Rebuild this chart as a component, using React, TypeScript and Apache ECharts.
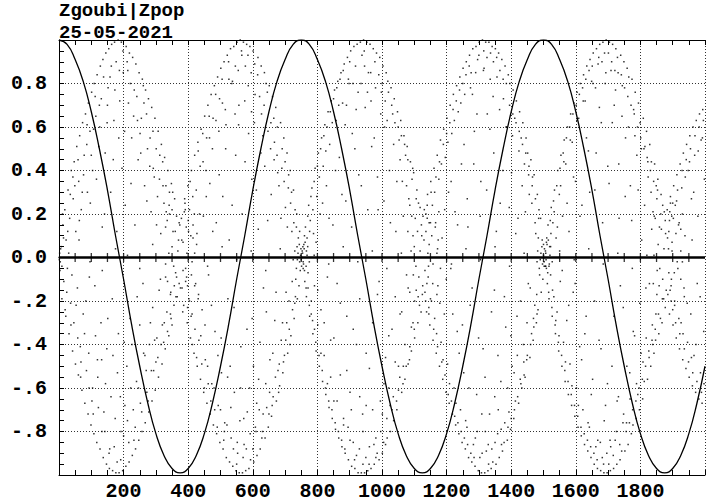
import React, { useEffect, useRef } from "react";
import * as echarts from "echarts";

// ---- curve (Zpop), x step 25 ----
const cosX = [
  0, 25, 50, 75, 100, 125, 150, 175, 200, 225, 250, 275, 300, 325, 350, 375, 400, 425, 450, 475,
  500, 525, 550, 575, 600, 625, 650, 675, 700, 725, 750, 775, 800, 825, 850, 875, 900, 925, 950, 975,
  1000, 1025, 1050, 1075, 1100, 1125, 1150, 1175, 1200, 1225, 1250, 1275, 1300, 1325, 1350, 1375, 1400, 1425, 1450, 1475,
  1500, 1525, 1550, 1575, 1600, 1625, 1650, 1675, 1700, 1725, 1750, 1775, 1800, 1825, 1850, 1875, 1900, 1925, 1950, 1975, 2000,
];
const cosY = [
  1.0, 0.98, 0.91, 0.81, 0.67, 0.5, 0.31, 0.1, -0.1, -0.31, -0.5, -0.67, -0.81, -0.91, -0.97, -0.99, -0.97, -0.91, -0.81, -0.67,
  -0.5, -0.31, -0.1, 0.1, 0.31, 0.5, 0.67, 0.81, 0.91, 0.98, 1.0, 0.98, 0.91, 0.81, 0.67, 0.5, 0.31, 0.1, -0.1, -0.31,
  -0.5, -0.67, -0.81, -0.91, -0.97, -0.99, -0.97, -0.91, -0.81, -0.67, -0.5, -0.31, -0.1, 0.1, 0.31, 0.5, 0.67, 0.81, 0.91, 0.98,
  1.0, 0.98, 0.91, 0.81, 0.67, 0.5, 0.31, 0.1, -0.1, -0.31, -0.5, -0.67, -0.81, -0.91, -0.97, -0.99, -0.97, -0.91, -0.81, -0.67, -0.5,
];

// ---- particle cloud ----
const cloudA = [
  [5,.04],[12,.15],[18,.22],[22,.08],[28,.31],[33,.18],[38,.40],[44,.27],[47,.44],[52,.12],[55,.51],[61,.35],[64,.56],[69,.22],[73,.62],[78,.47],[82,.66],[88,.30],[91,.71],[96,.58],[101,.76],[104,.40],[109,.80],[114,.65],[118,.84],[123,.51],[128,.88],[131,.73],[136,.91],[141,.20],[145,.94],[149,.62],[154,.96],[158,.83],[163,.98],[168,.45],[172,.99],[177,.90],[183,1.0],[188,.72],[193,.99],[198,.95],[203,.58],[208,.97],[213,.86],[218,.94],[223,.34],[228,.92],[233,.77],[238,.89],[243,.63],[248,.85],[253,.48],[258,.82],[263,.71],[268,.77],[272,.26],[277,.73],[282,.55],[287,.69],[292,.41],[297,.64],[302,.15],[307,.58],[312,.47],[317,.52],[322,.33],[327,.46],[332,.21],[337,.40],[342,.30],[348,.34],[353,.12],[358,.27],[364,.19],[370,.08],[374,.15],
  [3,-.06],[9,-.19],[15,-.11],[21,-.27],[26,-.05],[31,-.35],[36,-.21],[42,-.43],[46,-.30],[51,-.49],[57,-.14],[60,-.54],[66,-.41],[71,-.61],[75,-.26],[80,-.67],[85,-.52],[90,-.72],[94,-.09],[99,-.77],[104,-.60],[108,-.81],[113,-.36],[117,-.85],[122,-.69],[127,-.88],[132,-.47],[137,-.92],[142,-.80],[147,-.95],[151,-.28],[156,-.97],[161,-.64],[166,-.98],[171,-.87],[176,-.99],[181,-.53],[186,-.99],[191,-.93],[197,-.98],[202,-.39],[207,-.96],[212,-.75],[217,-.94],[222,-.60],[227,-.91],[232,-.84],[237,-.88],[242,-.18],[247,-.84],[252,-.67],[257,-.80],[262,-.44],[267,-.76],[272,-.62],[278,-.71],[283,-.30],[288,-.66],[293,-.52],[298,-.61],[303,-.37],[308,-.55],[314,-.10],[319,-.49],[324,-.39],[329,-.42],[334,-.25],[340,-.36],[345,-.17],[350,-.31],[356,-.22],[361,-.07],[366,-.18],[372,-.12],
  [14,.09],[24,-.16],[35,.29],[40,-.08],[49,.33],[58,-.37],[63,.17],[68,-.48],[76,.38],[83,-.20],[86,.52],[92,-.44],[97,.25],[102,-.66],[107,.59],[111,-.13],[116,.36],[120,-.55],[125,.70],[130,-.30],[134,.14],[139,-.71],[143,.48],[148,-.42],[152,.78],[157,-.88],[160,.30],[165,-.19],[170,.63],[174,-.74],[179,.12],[184,-.35],[187,.86],[190,-.64],[195,.41],[200,-.82],[205,.24],[210,-.50],[215,.71],[220,-.28],[225,.55],[230,-.70],[235,.15],[240,-.57],[245,.45],[250,-.31],[255,.64],[260,-.12],[265,.33],[270,-.52],[274,.50],[280,-.40],[285,.21],[290,-.23],[295,.37],[300,-.48],[305,.28],[310,-.15],[315,.11],[320,-.31],[325,.25],[330,-.09],[335,.17],[345,-.26],[350,.22],[30,.02],[62,.08],[96,-.02],[134,-.06],[175,.04],[212,.01],[250,-.05],[290,.06],[330,-.03],
  [11,.20],[19,-.24],[27,.12],[37,-.31],[43,.37],[53,-.22],[59,.45],[67,-.55],[72,.30],[79,-.35],[87,.61],[93,-.60],[100,.47],[106,-.72],[112,.74],[119,-.47],[126,.60],[133,-.80],[138,.83],[144,-.58],[150,.70],[155,-.90],[162,.88],[167,-.45],[173,.77],[180,-.94],[185,.55],[192,-.80],[199,.85],[204,-.68],[211,.90],[216,-.85],[221,.80],[226,-.40],[231,.65],[236,-.78],[241,.74],[246,-.60],[251,.57],[256,-.71],[261,.79],[266,-.45],[271,.66],[276,-.66],[281,.42],[286,-.52],[291,.58],[296,-.38],[301,.50],[306,-.46],[311,.36],[316,-.40],[321,.44],[326,-.30],[331,.33],[336,-.34],[341,.24],[347,-.28],[352,.30],[357,-.13],
];
const cloudB = [
  [379,.18],[384,.07],[389,.27],[394,.14],[399,.33],[404,.22],[410,.40],[415,.09],[420,.47],[425,.31],[430,.53],[435,.20],[440,.59],[446,.44],[451,.65],[456,.28],[461,.70],[466,.55],[471,.75],[476,.12],[481,.79],[486,.63],[491,.83],[496,.38],[501,.87],[506,.71],[511,.90],[516,.50],[521,.93],[526,.82],[531,.96],[536,.24],[541,.97],[546,.88],[551,.99],[556,.61],[561,1.0],[566,.93],[571,.99],[576,.44],[581,.98],[586,.79],[591,.97],[596,.67],[601,.95],[606,.89],[611,.31],[616,.92],[621,.74],[626,.88],[631,.56],[636,.85],[641,.80],[646,.17],[651,.79],[656,.62],[661,.74],[666,.45],[671,.69],[676,.60],[681,.33],[686,.62],[691,.50],[696,.55],[701,.23],[706,.48],[711,.38],[716,.40],[721,.12],[726,.31],[731,.22],[736,.20],[741,.09],[745,.12],[749,.04],
  [381,-.14],[386,-.22],[392,-.05],[397,-.30],[402,-.19],[407,-.37],[412,-.26],[418,-.44],[423,-.12],[428,-.50],[433,-.38],[438,-.56],[443,-.24],[448,-.62],[453,-.47],[458,-.67],[463,-.08],[468,-.72],[473,-.58],[478,-.77],[483,-.34],[488,-.81],[493,-.68],[498,-.85],[503,-.53],[508,-.88],[513,-.76],[518,-.92],[523,-.19],[528,-.94],[533,-.83],[538,-.96],[543,-.62],[548,-.98],[553,-.90],[558,-.99],[563,-.41],[568,-.99],[573,-.86],[578,-.98],[583,-.71],[588,-.97],[593,-.93],[598,-.28],[603,-.94],[608,-.78],[613,-.91],[618,-.56],[623,-.88],[628,-.83],[633,-.14],[638,-.83],[643,-.69],[648,-.78],[653,-.47],[658,-.73],[663,-.64],[668,-.29],[673,-.66],[678,-.52],[683,-.59],[688,-.38],[693,-.53],[698,-.45],[703,-.16],[708,-.44],[713,-.33],[718,-.36],[723,-.24],[728,-.28],[733,-.10],[738,-.19],[743,-.13],[747,-.06],
  [395,-.09],[401,.12],[409,-.27],[414,.28],[421,-.33],[427,.11],[432,-.17],[437,.42],[442,-.49],[447,.19],[452,-.31],[457,.55],[462,-.58],[467,.34],[472,-.22],[477,.64],[482,-.70],[487,.16],[492,-.45],[497,.73],[502,-.37],[507,.28],[512,-.80],[517,.61],[522,-.55],[527,.08],[532,-.69],[537,.81],[542,-.23],[547,.47],[552,-.85],[557,.70],[562,-.60],[567,.20],[572,-.74],[577,.88],[582,-.33],[587,.57],[592,-.81],[597,.36],[602,-.50],[607,.75],[612,-.67],[617,.13],[622,-.39],[627,.66],[632,-.72],[637,.42],[642,-.25],[647,.58],[652,-.62],[657,.29],[662,-.44],[667,.53],[672,-.16],[677,.39],[682,-.49],[687,.18],[692,-.30],[697,.35],[702,-.38],[707,.14],[712,-.20],[717,.25],[722,-.11],[727,.16],[732,-.18],[737,.05],[420,.02],[460,-.04],[505,.05],[550,-.01],[595,.03],[640,-.06],[685,.04],[725,-.01],
  [383,-.25],[391,.22],[398,-.13],[406,.35],[413,-.40],[419,.20],[426,-.46],[431,.49],[439,-.36],[445,.57],[450,-.60],[455,.40],[460,-.50],[465,.65],[470,-.66],[475,.50],[480,-.60],[485,.75],[490,-.78],[495,.58],[500,-.70],[505,.82],[510,-.84],[515,.68],[520,-.77],[525,.90],[530,-.50],[535,.80],[540,-.88],[545,.66],[550,-.95],[555,.86],[560,-.75],[565,.95],[570,-.92],[575,.72],[580,-.88],[585,.93],[590,-.60],[595,.85],[600,-.88],[605,.62],[610,-.80],[615,.84],[620,-.70],[625,.48],[630,-.80],[635,.70],[640,-.58],[645,.76],[650,-.72],[655,.50],[660,-.68],[665,.64],[670,-.55],[675,.47],[680,-.62],[690,.41],[695,-.48],[700,.44],[705,-.30],[710,.32],[715,-.40],[720,.30],[730,-.21],[735,.14],
];
const cloudC = [
  [758,.06],[763,.14],[768,.09],[773,.24],[778,.17],[783,.32],[788,.11],[793,.41],[798,.28],[803,.48],[808,.20],[813,.55],[818,.42],[823,.61],[828,.33],[833,.67],[838,.52],[843,.72],[848,.15],[853,.77],[858,.63],[863,.81],[868,.46],[873,.85],[878,.71],[883,.89],[888,.26],[893,.92],[898,.80],[903,.95],[908,.57],[913,.97],[918,.88],[923,.98],[928,.38],[933,.99],[938,.93],[943,1.0],[948,.69],[953,.99],[958,.85],[963,.98],[968,.51],[973,.96],[978,.90],[983,.94],[988,.22],[993,.92],[998,.76],[1003,.88],[1008,.60],[1013,.85],[1018,.81],[1023,.40],[1028,.78],[1033,.66],[1038,.73],[1043,.12],[1048,.67],[1053,.54],[1058,.63],[1063,.35],[1068,.56],[1073,.47],[1078,.51],[1083,.27],[1088,.44],[1093,.36],[1098,.39],[1103,.18],[1108,.31],[1113,.25],[1118,.23],[1123,.10],[1127,.19],
  [756,-.05],[761,-.11],[766,-.18],[771,-.07],[776,-.27],[781,-.20],[786,-.35],[791,-.13],[796,-.43],[801,-.31],[806,-.50],[811,-.24],[816,-.57],[821,-.45],[826,-.63],[831,-.09],[836,-.69],[841,-.55],[846,-.74],[851,-.37],[856,-.79],[861,-.66],[866,-.83],[871,-.21],[876,-.87],[881,-.74],[886,-.90],[891,-.52],[896,-.93],[901,-.84],[906,-.96],[911,-.33],[916,-.97],[921,-.91],[926,-.99],[931,-.64],[936,-.99],[941,-.95],[946,-.99],[951,-.44],[956,-.98],[961,-.87],[966,-.97],[971,-.70],[976,-.95],[981,-.92],[986,-.17],[991,-.93],[996,-.80],[1001,-.90],[1006,-.58],[1011,-.86],[1016,-.83],[1021,-.36],[1026,-.80],[1031,-.70],[1036,-.75],[1041,-.48],[1046,-.70],[1051,-.61],[1056,-.26],[1061,-.62],[1066,-.50],[1071,-.56],[1076,-.08],[1081,-.49],[1086,-.41],[1091,-.43],[1096,-.30],[1101,-.37],[1106,-.15],[1111,-.30],[1116,-.22],[1121,-.25],[1126,-.13],
  [766,.03],[771,-.14],[776,.12],[781,-.26],[786,.22],[791,-.33],[796,.07],[801,-.15],[806,.37],[811,-.44],[816,.25],[821,-.30],[826,.49],[831,-.58],[836,.18],[841,-.38],[846,.62],[851,-.66],[856,.40],[861,-.12],[866,.70],[871,-.54],[876,.29],[881,-.77],[886,.61],[891,-.27],[896,.82],[901,-.62],[906,.14],[911,-.85],[916,.50],[921,-.40],[926,.76],[931,-.19],[936,.33],[941,-.80],[946,.88],[951,-.68],[956,.22],[961,-.51],[966,.72],[971,-.30],[976,.55],[981,-.83],[986,.37],[991,-.11],[996,.66],[1001,-.72],[1006,.26],[1011,-.46],[1016,.63],[1021,-.60],[1026,.16],[1031,-.33],[1036,.52],[1041,-.18],[1046,.35],[1051,-.50],[1056,.45],[1061,-.25],[1066,.19],[1071,-.40],[1076,.33],[1081,-.14],[1086,.24],[1091,-.32],[1096,.10],[1101,-.20],[1106,.27],[790,.01],[835,-.03],[880,.05],[925,-.02],[970,.03],[1015,-.05],[1060,.02],
  [760,.10],[765,-.14],[770,.19],[775,-.22],[780,.28],[785,-.29],[790,.35],[795,-.39],[800,.42],[805,-.45],[810,.50],[815,-.52],[820,.56],[825,-.60],[830,.60],[835,-.66],[840,.67],[845,-.70],[850,.73],[855,-.76],[860,.78],[865,-.80],[870,.82],[875,-.84],[880,.86],[885,-.88],[890,.70],[895,-.78],[900,.90],[905,-.70],[910,.80],[915,-.93],[920,.68],[930,-.88],[935,.80],[940,-.72],[945,.95],[950,-.92],[955,.76],[960,-.95],[965,.85],[975,-.86],[980,.78],[985,-.90],[990,.84],[995,-.66],[1000,.80],[1005,-.85],[1010,.72],[1015,-.74],[1020,.76],[1025,-.68],[1030,.70],[1035,-.64],[1040,.62],[1045,-.66],[1050,.60],[1055,-.55],[1060,.56],[1065,-.58],[1070,.52],[1075,-.50],[1080,.45],[1085,-.47],[1095,.41],[1100,-.33],
];
const cloudD = [
  [1131,.22],[1136,.12],[1141,.29],[1146,.06],[1151,.35],[1156,.24],[1161,.41],[1166,.16],[1171,.47],[1176,.36],[1181,.54],[1186,.09],[1191,.59],[1196,.46],[1201,.64],[1206,.30],[1211,.70],[1216,.57],[1221,.75],[1226,.21],[1231,.79],[1236,.67],[1241,.83],[1246,.43],[1251,.87],[1256,.75],[1261,.90],[1266,.14],[1271,.93],[1276,.85],[1281,.96],[1286,.58],[1291,.97],[1296,.91],[1301,.99],[1306,.35],[1311,1.0],[1316,.87],[1321,.99],[1326,.66],[1331,.99],[1336,.94],[1341,.97],[1346,.48],[1351,.96],[1356,.83],[1361,.94],[1366,.25],[1371,.91],[1376,.73],[1381,.88],[1386,.60],[1391,.84],[1396,.80],[1401,.39],[1406,.77],[1411,.64],[1416,.72],[1421,.18],[1426,.67],[1431,.55],[1436,.62],[1441,.43],[1446,.55],[1451,.48],[1456,.29],[1461,.45],[1466,.37],[1471,.38],[1476,.11],[1481,.29],[1486,.22],[1491,.18],[1496,.08],[1500,.06],
  [1133,-.16],[1138,-.25],[1143,-.09],[1148,-.31],[1153,-.20],[1158,-.38],[1163,-.28],[1168,-.44],[1173,-.13],[1178,-.50],[1183,-.39],[1188,-.56],[1193,-.26],[1198,-.62],[1203,-.49],[1208,-.67],[1213,-.05],[1218,-.72],[1223,-.60],[1228,-.77],[1233,-.34],[1238,-.81],[1243,-.70],[1248,-.85],[1253,-.53],[1258,-.88],[1263,-.78],[1268,-.92],[1273,-.22],[1278,-.94],[1283,-.86],[1288,-.96],[1293,-.63],[1298,-.98],[1303,-.92],[1308,-.99],[1313,-.42],[1318,-.99],[1323,-.89],[1328,-.98],[1333,-.72],[1338,-.97],[1343,-.94],[1348,-.15],[1353,-.95],[1358,-.81],[1363,-.92],[1368,-.57],[1373,-.89],[1378,-.85],[1383,-.32],[1388,-.84],[1393,-.71],[1398,-.79],[1403,-.50],[1408,-.74],[1413,-.66],[1418,-.27],[1423,-.67],[1428,-.56],[1433,-.60],[1438,-.40],[1443,-.55],[1448,-.47],[1453,-.12],[1458,-.46],[1463,-.35],[1468,-.38],[1473,-.22],[1478,-.30],[1483,-.24],[1488,-.08],[1493,-.16],[1498,-.10],[1502,-.04],
  [1144,-.04],[1150,.16],[1157,-.12],[1163,.30],[1169,-.35],[1174,.08],[1179,-.21],[1184,.43],[1189,-.47],[1194,.22],[1199,-.10],[1204,.53],[1209,-.58],[1214,.35],[1219,-.26],[1224,.63],[1229,-.67],[1234,.15],[1239,-.44],[1244,.71],[1249,-.31],[1254,.52],[1259,-.75],[1264,.27],[1269,-.60],[1274,.78],[1279,-.14],[1284,.43],[1289,-.83],[1294,.66],[1299,-.37],[1304,.19],[1309,-.72],[1314,.86],[1319,-.55],[1324,.31],[1329,-.86],[1334,.59],[1339,-.25],[1344,.74],[1349,-.64],[1354,.12],[1359,-.45],[1364,.68],[1369,-.79],[1374,.40],[1379,-.18],[1384,.60],[1389,-.60],[1394,.23],[1399,-.36],[1404,.56],[1409,-.53],[1414,.11],[1419,-.45],[1424,.49],[1429,-.20],[1434,.33],[1439,-.48],[1444,.21],[1449,-.30],[1454,.38],[1459,-.14],[1464,.25],[1469,-.28],[1474,.16],[1479,-.17],[1484,.09],[1170,.02],[1215,-.03],[1260,.04],[1305,-.01],[1350,.05],[1395,-.04],[1440,.02],[1480,-.02],
  [1135,-.20],[1140,.18],[1145,-.26],[1152,.30],[1160,-.33],[1167,.37],[1172,-.41],[1178,.44],[1185,-.48],[1190,.52],[1195,-.54],[1200,.57],[1205,-.63],[1210,.62],[1215,-.66],[1220,.68],[1225,-.73],[1230,.72],[1235,-.76],[1240,.77],[1245,-.80],[1250,.80],[1255,-.83],[1260,.84],[1265,-.86],[1270,.88],[1275,-.90],[1280,.75],[1285,-.92],[1290,.85],[1295,-.80],[1300,.93],[1310,-.90],[1315,.95],[1320,-.80],[1325,.92],[1330,-.95],[1335,.82],[1340,-.88],[1345,.90],[1350,-.85],[1355,.92],[1360,-.70],[1365,.86],[1370,-.86],[1375,.82],[1380,-.76],[1385,.80],[1390,-.78],[1395,.70],[1400,-.74],[1405,.66],[1410,-.70],[1415,.62],[1420,-.64],[1425,.58],[1430,-.58],[1435,.52],[1440,-.54],[1445,.48],[1450,-.45],[1455,.42],[1460,-.40],[1465,.33],[1470,-.32],[1475,.27],[1480,-.26],[1485,.18],
];
const cloudE = [
  [1509,.07],[1514,.15],[1519,.05],[1524,.23],[1529,.16],[1534,.31],[1539,.09],[1544,.40],[1549,.29],[1554,.47],[1559,.19],[1564,.54],[1569,.43],[1574,.60],[1579,.12],[1584,.66],[1589,.53],[1594,.71],[1599,.35],[1604,.76],[1609,.64],[1614,.80],[1619,.24],[1624,.84],[1629,.72],[1634,.88],[1639,.49],[1644,.91],[1649,.81],[1654,.94],[1659,.31],[1664,.96],[1669,.89],[1674,.98],[1679,.62],[1684,.99],[1689,.94],[1694,1.0],[1699,.42],[1704,.99],[1709,.86],[1714,.98],[1719,.70],[1724,.96],[1729,.92],[1734,.18],[1739,.93],[1744,.79],[1749,.90],[1754,.55],[1759,.87],[1764,.83],[1769,.33],[1774,.82],[1779,.68],[1784,.76],[1789,.47],[1794,.71],[1799,.62],[1804,.08],[1809,.64],[1814,.51],[1819,.58],[1824,.37],[1829,.52],[1834,.44],[1839,.21],[1844,.43],[1849,.33],[1854,.36],[1859,.14],[1864,.29],[1869,.24],[1874,.21],[1878,.11],
  [1507,-.04],[1512,-.12],[1517,-.19],[1522,-.08],[1527,-.27],[1532,-.18],[1537,-.35],[1542,-.25],[1547,-.43],[1552,-.11],[1557,-.50],[1562,-.39],[1567,-.57],[1572,-.29],[1577,-.63],[1582,-.49],[1587,-.68],[1592,-.16],[1597,-.73],[1602,-.60],[1607,-.78],[1612,-.41],[1617,-.82],[1622,-.70],[1627,-.86],[1632,-.27],[1637,-.89],[1642,-.78],[1647,-.92],[1652,-.56],[1657,-.95],[1662,-.87],[1667,-.97],[1672,-.38],[1677,-.98],[1682,-.92],[1687,-.99],[1692,-.68],[1697,-.99],[1702,-.95],[1707,-.98],[1712,-.50],[1717,-.97],[1722,-.84],[1727,-.95],[1732,-.64],[1737,-.93],[1742,-.89],[1747,-.23],[1752,-.89],[1757,-.76],[1762,-.86],[1767,-.53],[1772,-.81],[1777,-.77],[1782,-.36],[1787,-.74],[1792,-.63],[1797,-.70],[1802,-.44],[1807,-.65],[1812,-.57],[1817,-.14],[1822,-.56],[1827,-.46],[1832,-.50],[1837,-.31],[1842,-.44],[1847,-.38],[1852,-.06],[1857,-.35],[1862,-.28],[1867,-.30],[1872,-.19],[1877,-.23],
  [1518,-.03],[1523,.11],[1528,-.15],[1533,.21],[1538,-.29],[1543,.14],[1548,-.36],[1553,.33],[1558,-.06],[1563,.44],[1568,-.48],[1573,.25],[1578,-.22],[1583,.54],[1588,-.59],[1593,.37],[1598,-.12],[1603,.63],[1608,-.68],[1613,.19],[1618,-.47],[1623,.72],[1628,-.35],[1633,.55],[1638,-.76],[1643,.30],[1648,-.63],[1653,.80],[1658,-.20],[1663,.48],[1668,-.84],[1673,.69],[1678,-.42],[1683,.16],[1688,-.75],[1693,.85],[1698,-.58],[1703,.34],[1708,-.87],[1713,.62],[1718,-.27],[1723,.77],[1728,-.66],[1733,.43],[1738,-.13],[1743,.65],[1748,-.72],[1753,.28],[1758,-.50],[1763,.60],[1768,-.65],[1773,.17],[1778,-.34],[1783,.56],[1788,-.58],[1793,.31],[1798,-.21],[1803,.50],[1808,-.48],[1813,.24],[1818,-.37],[1823,.44],[1828,-.12],[1833,.30],[1838,-.40],[1843,.19],[1848,-.26],[1853,.31],[1858,-.13],[1863,.20],[1550,.03],[1595,-.01],[1640,.04],[1685,-.03],[1730,.02],[1775,-.05],[1820,.01],
  [1510,.09],[1516,-.16],[1521,.17],[1526,-.23],[1531,.26],[1536,-.31],[1541,.33],[1546,-.39],[1551,.41],[1556,-.45],[1561,.48],[1566,-.52],[1571,.55],[1576,-.57],[1581,.60],[1586,-.63],[1591,.66],[1596,-.68],[1601,.70],[1606,-.73],[1611,.75],[1616,-.78],[1621,.78],[1626,-.81],[1631,.82],[1636,-.84],[1641,.86],[1646,-.87],[1651,.88],[1656,-.90],[1661,.78],[1666,-.93],[1671,.92],[1676,-.85],[1681,.90],[1686,-.95],[1691,.80],[1696,-.90],[1701,.94],[1706,-.84],[1711,.90],[1716,-.91],[1721,.86],[1726,-.80],[1731,.85],[1736,-.86],[1741,.84],[1746,-.76],[1751,.78],[1756,-.80],[1761,.74],[1766,-.76],[1771,.70],[1776,-.70],[1781,.66],[1786,-.66],[1791,.60],[1796,-.60],[1801,.55],[1806,-.56],[1811,.50],[1816,-.50],[1821,.46],[1826,-.43],[1831,.40],[1836,-.38],[1841,.35],[1846,-.33],[1851,.27],[1856,-.26],
];
const cloudF = [
  [1883,.22],[1888,.12],[1893,.28],[1898,.07],[1903,.33],[1908,.24],[1913,.38],[1918,.15],[1923,.43],[1928,.32],[1933,.48],[1938,.10],[1943,.52],[1948,.40],[1953,.56],[1958,.27],[1963,.60],[1968,.47],[1973,.63],[1978,.19],[1983,.66],[1988,.54],[1993,.68],[1998,.36],
  [1885,-.17],[1890,-.26],[1896,-.10],[1901,-.31],[1906,-.22],[1911,-.37],[1916,-.05],[1921,-.42],[1926,-.30],[1931,-.47],[1936,-.18],[1941,-.51],[1946,-.39],[1951,-.55],[1956,-.26],[1961,-.59],[1966,-.45],[1971,-.62],[1976,-.12],[1981,-.65],[1986,-.53],[1991,-.67],[1996,-.34],
  [1887,.04],[1892,-.15],[1897,.19],[1905,-.07],[1912,.26],[1919,-.28],[1925,.13],[1932,-.35],[1939,.37],[1945,-.21],[1952,.44],[1958,-.46],[1965,.30],[1972,-.40],[1979,.49],[1985,-.18],[1992,.55],[1997,-.58],[1960,.08],[1930,-.02],
  [1890,.17],[1895,-.20],[1900,.25],[1909,-.30],[1915,.31],[1922,-.35],[1929,.40],[1936,-.42],[1942,.45],[1949,-.48],[1955,.50],[1962,-.53],[1969,.56],[1975,-.57],[1982,.60],[1989,-.62],[1995,.63],
];
const knotTight = [
  [0,.0],[2,.02],[4,-.02],[7,.05],[9,-.04],[1,-.01],
  [748,.01],[750,-.01],[752,.0],[754,.02],[756,-.02],[753,.03],[751,-.04],[755,.05],[757,-.03],[759,.04],[745,-.02],[760,-.06],[762,.07],[744,.06],
  [730,.03],[735,-.05],[740,.02],[765,-.04],[770,.05],[775,-.02],[738,-.01],[768,.01],
  [1500,.01],[1502,-.02],[1504,.0],[1506,.03],[1508,-.01],[1505,-.04],[1503,.04],[1507,.02],[1509,-.05],[1511,.06],[1497,-.03],[1513,-.07],[1515,.08],[1495,.05],
  [1482,.03],[1487,-.05],[1492,.02],[1517,-.04],[1522,.05],[1527,-.02],[1490,-.01],[1520,.01],
];
const knotLoose = [
  [350,.05],[355,-.04],[360,.12],[364,-.09],[368,.03],[372,.16],[376,-.14],[380,.08],[384,-.06],[388,.21],[392,-.11],[396,.02],[400,.17],[404,-.20],[408,.10],[412,-.02],[362,-.18],[390,.25],[398,-.23],
  [330,.14],[336,-.11],[342,.20],[346,-.16],[415,.15],[420,-.13],[426,.06],[431,-.19],[340,.02],[410,-.08],
  [1100,.05],[1105,-.04],[1110,.12],[1114,-.09],[1118,.03],[1122,.15],[1125,-.17],[1130,.08],[1133,-.06],[1136,.20],[1139,-.12],[1142,.02],[1146,.16],[1150,-.19],[1154,.10],[1158,-.03],[1112,-.18],[1140,.24],[1145,-.23],
  [1080,.12],[1086,-.16],[1092,.19],[1097,-.08],[1165,.14],[1170,-.17],[1176,.21],[1181,-.05],[1090,.03],[1172,.04],
  [1855,.06],[1860,-.05],[1865,.13],[1869,-.10],[1873,.04],[1877,.17],[1880,-.15],[1884,.09],[1888,-.07],[1891,.21],[1895,-.13],[1898,.03],[1902,.18],[1906,-.20],[1910,.11],[1914,-.02],[1868,-.19],[1893,.25],[1900,-.24],
  [1835,.13],[1840,-.12],[1846,.18],[1851,-.17],[1920,.16],[1925,-.10],[1930,.20],[1935,-.14],[1842,.01],[1925,.03],
];

// ---- axis texts ----
const xTickLabels = ["200", "400", "600", "800", "1000", "1200", "1400", "1600", "1800"];
const yTickValues = [0.8, 0.6, 0.4, 0.2, 0.0, -0.2, -0.4, -0.6, -0.8];
const yTickLabels = ["0.8", "0.6", "0.4", "0.2", "0.0", "-.2", "-.4", "-.6", "-.8"];
const zeroAxisTicks = [
  50, 100, 150, 200, 250, 300, 350, 400, 450, 500, 550, 600, 650, 700, 750, 800, 850, 900, 950, 1000,
  1050, 1100, 1150, 1200, 1250, 1300, 1350, 1400, 1450, 1500, 1550, 1600, 1650, 1700, 1750, 1800, 1850, 1900, 1950,
];
const titleLines = ["Zgoubi|Zpop", "25-05-2021"];

const FONT = '"Liberation Mono", "DejaVu Sans Mono", monospace';

export default function App() {
  const ref = useRef<HTMLDivElement>(null);
  useEffect(() => {
    if (!ref.current) return;
    const chart = echarts.init(ref.current, null, { renderer: "svg" });
    const cloud = ([] as number[][]).concat(cloudA, cloudB, cloudC, cloudD, cloudE, cloudF, knotTight, knotLoose);
    const labelStyle = { fontFamily: FONT, fontWeight: "bold" as const, fontSize: 20, color: "#000" };
    const tickCommon = {
      axisLine: { show: true, onZero: false, lineStyle: { color: "#000", width: 1 } },
      axisTick: { show: true, inside: true, length: 5, lineStyle: { color: "#000", width: 1 } },
      minorTick: { show: true, splitNumber: 4, length: 5, lineStyle: { color: "#000", width: 1 } },
    };
    const option: any = {
      animation: false,
      backgroundColor: "#fff",
      grid: { left: 59, top: 40, right: -4, bottom: 23, containLabel: false },
      graphic: [
        {
          type: "text",
          x: 59,
          y: 21.9,
          style: {
            text: titleLines.join("\n"),
            font: `bold 19px ${FONT}`,
            lineHeight: 21.8,
            fill: "#000",
            verticalAlign: "middle",
            align: "left",
          },
        },
      ],
      xAxis: [
        {
          type: "value", min: 0, max: 2000, interval: 200, position: "bottom",
          ...tickCommon,
          axisLabel: {
            ...labelStyle, margin: 6,
            formatter: (v: number) => {
              const i = xTickLabels.indexOf(String(Math.round(v)));
              return i >= 0 ? xTickLabels[i] : "";
            },
          },
          splitLine: { show: true, lineStyle: { color: "#333", type: [1, 2], width: 1 } },
        },
        {
          type: "value", min: 0, max: 2000, interval: 200, position: "top",
          ...tickCommon,
          axisLabel: { show: false },
          splitLine: { show: false },
        },
      ],
      yAxis: [
        {
          type: "value", min: -1, max: 1, interval: 0.2,
          ...tickCommon,
          axisLabel: {
            ...labelStyle, margin: 12,
            formatter: (v: number) => {
              const r = Math.round(v * 10) / 10;
              const i = yTickValues.findIndex((t) => Math.abs(t - r) < 1e-6);
              return i >= 0 ? yTickLabels[i] : "";
            },
          },
          splitLine: { show: true, lineStyle: { color: "#333", type: [1, 2], width: 1 } },
        },
      ],
      series: [
        {
          type: "scatter",
          data: cloud,
          symbol: "rect",
          symbolSize: 1.5,
          itemStyle: { color: "#000" },
          silent: true,
          markLine: {
            silent: true,
            symbol: "none",
            label: { show: false },
            lineStyle: { color: "#000", type: "solid", width: 2.5 },
            data: [{ yAxis: 0 }],
          },
          z: 2,
        },
        {
          type: "scatter",
          data: zeroAxisTicks.map((x) => [x, 0]),
          symbol: "rect",
          symbolSize: [1.3, 9],
          itemStyle: { color: "#000" },
          silent: true,
          z: 3,
        },
        {
          type: "line",
          data: cosX.map((x, i) => [x, cosY[i]]),
          smooth: true,
          showSymbol: false,
          symbol: "none",
          lineStyle: { color: "#000", width: 1.3 },
          silent: true,
          z: 4,
        },
      ],
    };
    chart.setOption(option);
    return () => chart.dispose();
  }, []);
  return <div ref={ref} style={{ position: "fixed", left: 0, top: 0, width: 708, height: 501, background: "#fff" }} />;
}
